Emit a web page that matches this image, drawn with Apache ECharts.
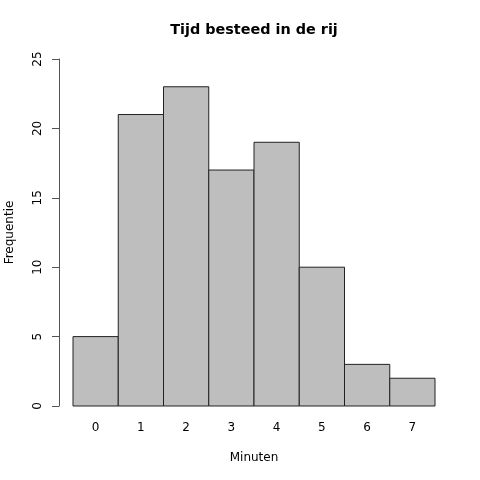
<!DOCTYPE html>
<html><head><meta charset="utf-8">
<script src="https://cdn.jsdelivr.net/npm/echarts@6/dist/echarts.min.js"></script>
<style>html,body{margin:0;padding:0;background:#fff}#c{width:480px;height:480px}</style>
</head><body><div id="c"></div>
<script>
const categories = ['0','1','2','3','4','5','6','7'];
const frequencies = [5, 21, 23, 17, 19, 10, 3, 2];
const yTicks = [0, 5, 10, 15, 20, 25];

const chart = echarts.init(document.getElementById('c'), null, {renderer:'canvas'});
const font = 'DejaVu Sans';
chart.setOption({
  animation: false,
  backgroundColor: '#ffffff',
  graphic: [{
    type: 'text', x: 254, y: 30,
    style: {text: 'Tijd besteed in de rij', fontFamily: font, fontSize: 14.4, fontWeight: 'bold',
      fill: '#000', align: 'center', verticalAlign: 'middle'}
  }],
  grid: {left: 73, right: 45, top: 59, bottom: 74, containLabel: false, outerBoundsMode: 'none'},
  xAxis: {
    type: 'category', data: categories,
    axisLine: {show: false}, axisTick: {show: false},
    axisLabel: {fontFamily: font, fontSize: 12, color: '#000', margin: 16},
    name: 'Minuten', nameLocation: 'middle', nameGap: 46,
    nameTextStyle: {fontFamily: font, fontSize: 12, color: '#000'}
  },
  yAxis: {
    type: 'value', min: 0, max: 25, interval: 5, offset: 14,
    axisLine: {show: true, lineStyle: {color: '#555', width: 1}},
    axisTick: {show: true, length: 7, lineStyle: {color: '#555'}},
    splitLine: {show: false},
    axisLabel: {fontFamily: font, fontSize: 12, color: '#000', rotate: 90, margin: 15,
      formatter: v => yTicks.includes(v) ? String(v) : ''},
    name: 'Frequentie', nameLocation: 'middle', nameGap: 43,
    nameTextStyle: {fontFamily: font, fontSize: 12, color: '#000'}
  },
  series: [{
    type: 'custom',
    data: frequencies.map((v, i) => [i, v]),
    encode: {x: 0, y: 1},
    renderItem: function (params, api) {
      const i = api.value(0), v = api.value(1);
      const top = api.coord([i, v]);
      const base = api.coord([i, 0]);
      const w = api.size([1, 0])[0];
      return {
        type: 'rect',
        shape: {x: top[0] - w / 2, y: top[1], width: w, height: base[1] - top[1]},
        style: {fill: '#bebebe', stroke: '#222', lineWidth: 1}
      };
    }
  }]
});
</script></body></html>
